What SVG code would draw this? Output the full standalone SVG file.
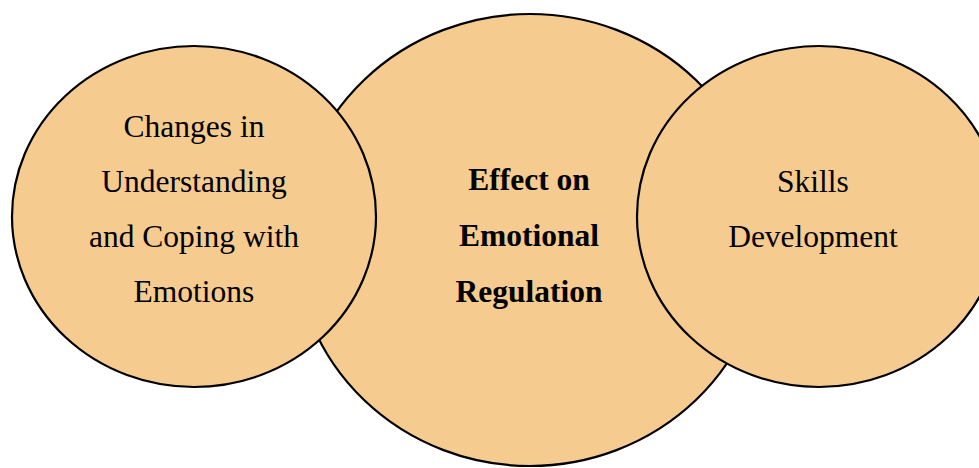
<svg xmlns="http://www.w3.org/2000/svg" width="979" height="468" viewBox="0 0 979 468">
  <style>
    .node { fill: #F5CB8F; stroke: #000000; stroke-width: 2.2; }
    .lbl { font-family: "Liberation Serif", "Times New Roman", serif; font-size: 31.5px; fill: #000000; text-anchor: middle; }
    .bold { font-weight: bold; }
  </style>
  <rect x="0" y="0" width="979" height="468" fill="#FFFFFF"/>
  <g id="center-node">
    <ellipse class="node" cx="530" cy="240" rx="235" ry="226"/>
    <text class="lbl bold" x="529" y="190">Effect on</text>
    <text class="lbl bold" x="529" y="246">Emotional</text>
    <text class="lbl bold" x="529" y="302">Regulation</text>
  </g>
  <g id="left-node">
    <ellipse class="node" cx="194" cy="216.5" rx="182" ry="170.5"/>
    <text class="lbl" x="194" y="137">Changes in</text>
    <text class="lbl" x="194" y="192">Understanding</text>
    <text class="lbl" x="194" y="247">and Coping with</text>
    <text class="lbl" x="194" y="302">Emotions</text>
  </g>
  <g id="right-node">
    <ellipse class="node" cx="819" cy="216.5" rx="182" ry="170.5"/>
    <text class="lbl" x="813" y="192">Skills</text>
    <text class="lbl" x="813" y="247">Development</text>
  </g>
  <g id="connectors"></g>
</svg>
